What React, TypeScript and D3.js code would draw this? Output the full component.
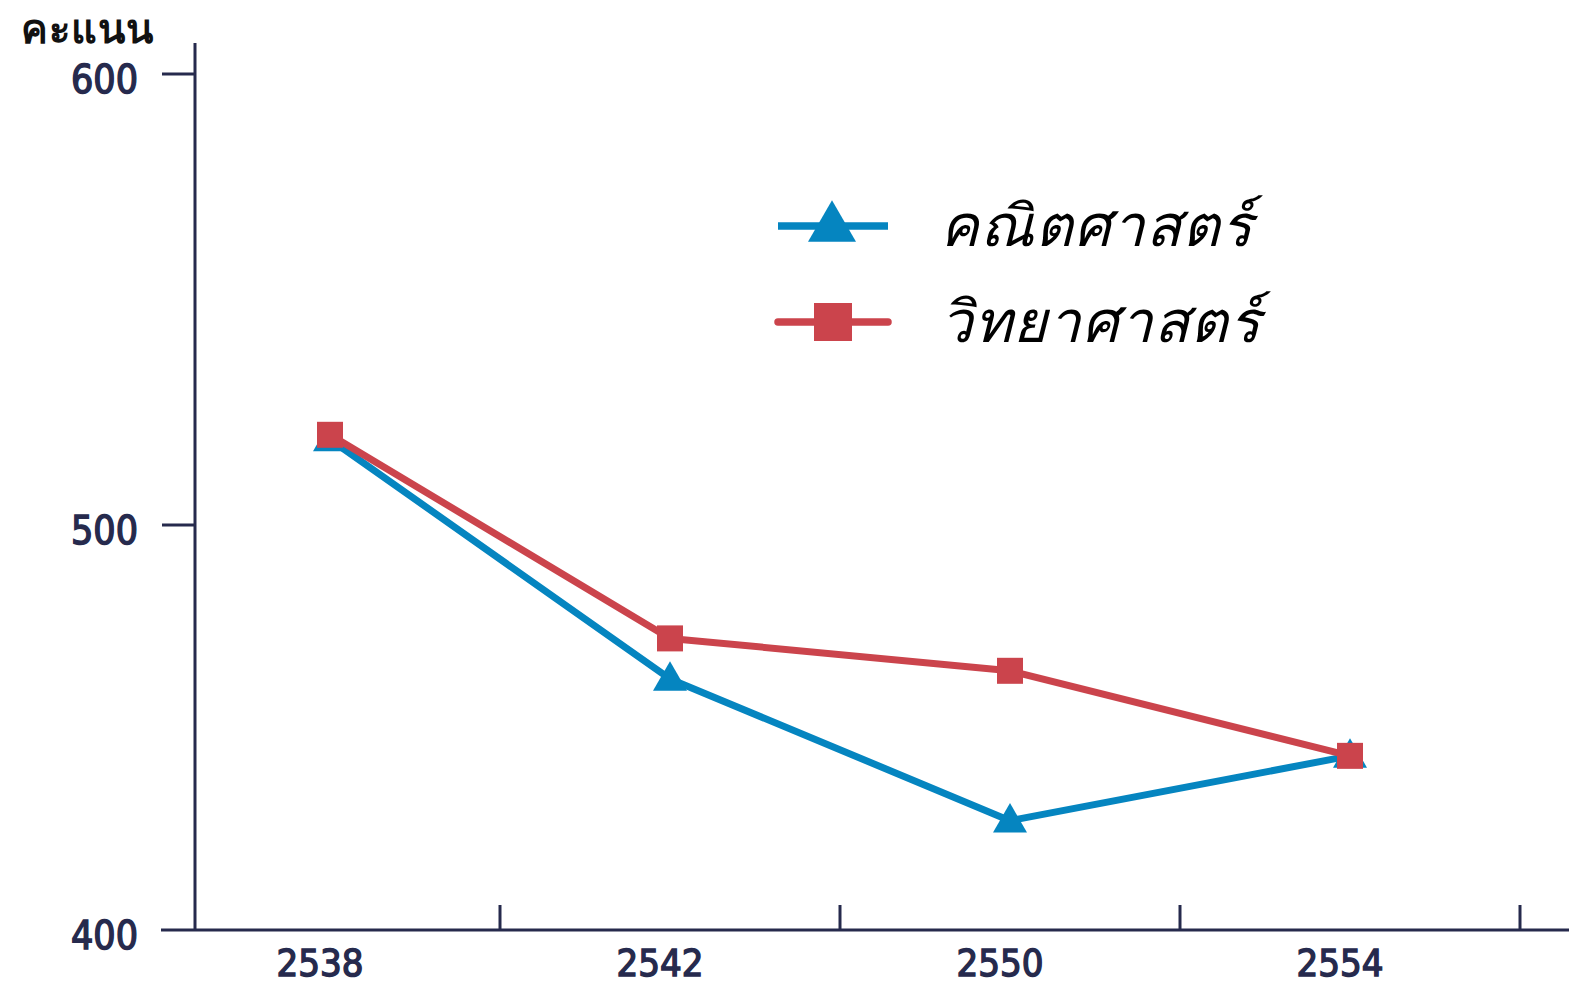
import React, { useEffect, useRef } from 'react';
import * as d3 from 'd3';

// years along the bottom axis
const years = ['2538', '2542', '2550', '2554'];
// average scores
const mathScores = [519, 462, 427, 443];
const scienceScores = [520, 472, 464, 443];
const yTicks = [400, 500, 600];

const seriesNames = ['คณิตศาสตร์', 'วิทยาศาสตร์'];
const seriesColors = ['#0585c0', '#cb444c'];

const W = 1569;
const H = 985;
const axisColor = '#262a4d';
const numFont = '"DejaVu Sans Condensed", "DejaVu Sans", sans-serif';

export default function App() {
  const svgRef = useRef<SVGSVGElement>(null);

  useEffect(() => {
    document.body.style.margin = '0';
    if (!svgRef.current) return;
    const svg = d3.select(svgRef.current);
    svg.selectAll('*').remove();

    const axisX = 195;
    const axisY = 930;

    const x = d3.scaleBand<string>().domain(years).range([160, 1520]).padding(0);
    // the original axis is not evenly spaced, so keep its two segments
    const y = d3.scaleLinear().domain([400, 500, 600]).range([axisY, 525, 74]);

    // title
    svg.append('text')
      .attr('x', 21).attr('y', 43)
      .attr('font-family', '"Noto Sans", sans-serif')
      .attr('font-size', 40).attr('font-weight', 700)
      .attr('letter-spacing', 1)
      .attr('fill', '#111')
      .text('คะแนน');

    const numText = (sel: d3.Selection<SVGTextElement, unknown, null, undefined>) =>
      sel.attr('font-family', numFont).attr('font-size', 39)
        .attr('fill', axisColor).attr('stroke', axisColor).attr('stroke-width', 1.4);

    // y axis
    svg.append('line')
      .attr('x1', axisX).attr('x2', axisX).attr('y1', 43).attr('y2', axisY)
      .attr('stroke', axisColor).attr('stroke-width', 3);
    yTicks.forEach(t => {
      if (t !== 400) {
        svg.append('line')
          .attr('x1', 162).attr('x2', axisX).attr('y1', y(t)).attr('y2', y(t))
          .attr('stroke', axisColor).attr('stroke-width', 3);
      }
      svg.append('text')
        .attr('x', 138).attr('y', y(t) + 8)
        .attr('text-anchor', 'end').attr('dominant-baseline', 'middle')
        .call(numText)
        .text(t);
    });

    // x axis
    svg.append('line')
      .attr('x1', 161).attr('x2', W).attr('y1', axisY).attr('y2', axisY)
      .attr('stroke', axisColor).attr('stroke-width', 3);
    years.forEach(yr => {
      const right = (x(yr) as number) + x.bandwidth();
      svg.append('line')
        .attr('x1', right).attr('x2', right).attr('y1', axisY - 25).attr('y2', axisY)
        .attr('stroke', axisColor).attr('stroke-width', 3);
      svg.append('text')
        .attr('x', (x(yr) as number) + x.bandwidth() / 2 - 10).attr('y', 976)
        .attr('text-anchor', 'middle')
        .call(numText)
        .attr('font-size', 38)
        .text(yr);
    });

    const cx = (i: number) => (x(years[i]) as number) + x.bandwidth() / 2;
    const line = d3.line<number>().x((_, i) => cx(i)).y(d => y(d));

    const tri = d3.symbol().type(d3.symbolTriangle);
    const triPath = (side: number) => tri.size((side * side * Math.sqrt(3)) / 4)();

    // maths
    svg.append('path').datum(mathScores)
      .attr('d', line).attr('fill', 'none')
      .attr('stroke', seriesColors[0]).attr('stroke-width', 7)
      .attr('stroke-linejoin', 'round');
    svg.selectAll('.tri').data(mathScores).enter().append('path')
      .attr('class', 'tri')
      .attr('d', triPath(34))
      .attr('transform', (d, i) => `translate(${cx(i)},${y(d) + 2})`)
      .attr('fill', seriesColors[0]);

    // science
    svg.append('path').datum(scienceScores)
      .attr('d', line).attr('fill', 'none')
      .attr('stroke', seriesColors[1]).attr('stroke-width', 7)
      .attr('stroke-linejoin', 'round');
    svg.selectAll('.sq').data(scienceScores).enter().append('rect')
      .attr('class', 'sq')
      .attr('x', (d, i) => cx(i) - 13).attr('y', d => y(d) - 13)
      .attr('width', 26).attr('height', 26)
      .attr('fill', seriesColors[1]);

    // legend
    const lg = svg.append('g');
    const rows = [226, 322];
    rows.forEach((ry, i) => {
      lg.append('line')
        .attr('x1', 778).attr('x2', 888)
        .attr('y1', ry).attr('y2', ry)
        .attr('stroke', seriesColors[i]).attr('stroke-width', 7.5)
        .attr('stroke-linecap', i === 0 ? 'butt' : 'round');
      if (i === 0) {
        lg.append('path').attr('d', triPath(48))
          .attr('transform', `translate(832,${ry + 2})`)
          .attr('fill', seriesColors[i]);
      } else {
        lg.append('rect')
          .attr('x', 814).attr('y', ry - 19).attr('width', 38).attr('height', 38)
          .attr('fill', seriesColors[i]);
      }
      lg.append('text')
        .attr('x', 940).attr('y', ry + 20)
        .attr('font-family', '"Noto Sans", sans-serif')
        .attr('font-size', 58).attr('font-style', 'italic')
        .attr('letter-spacing', 1)
        .attr('fill', '#000')
        .text(seriesNames[i]);
    });
  }, []);

  return <svg ref={svgRef} width={W} height={H} style={{ display: 'block', background: '#fff' }} />;
}
